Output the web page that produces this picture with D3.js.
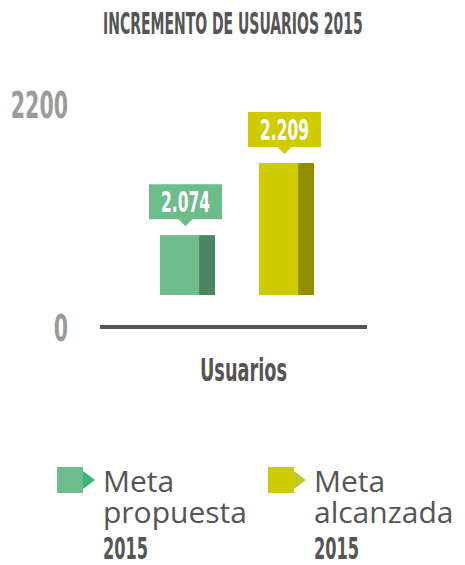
<!DOCTYPE html>
<html>
<head>
<meta charset="utf-8">
<script src="https://cdn.jsdelivr.net/npm/d3@7"></script>
<style>
  html, body { margin: 0; padding: 0; background: #fff; }
  svg { display: block; }
</style>
</head>
<body>
<div id="chart"></div>
<script>
const title = "INCREMENTO DE USUARIOS 2015";
const categories = ["Meta propuesta", "Meta alcanzada"];
const values = [2074, 2209];
const valueLabels = ["2.074", "2.209"];
const tickValues = [0, 2200];
const tickLabels = ["0", "2200"];
const axisLabel = "Usuarios";
const legendYear = "2015";

const width = 465, height = 565;
const condensed = "'DejaVu Sans Condensed', 'DejaVu Sans', sans-serif";

const colors = [
  { main: "#6dbd8b", side: "#4b8562", arrow: "#3db574" },
  { main: "#cecb00", side: "#918e00", arrow: "#b5cc2a" }
];

const svg = d3.select("#chart").append("svg")
  .attr("width", width)
  .attr("height", height);

// squeeze a text horizontally so it fills `w` px (the original uses a condensed face)
function squeeze(sel, x, y, w, anchor) {
  sel.each(function () {
    const natural = this.getComputedTextLength();
    const k = w / natural;
    d3.select(this).attr("x", 0).attr("y", 0)
      .attr("text-anchor", anchor || "start")
      .attr("transform", `translate(${x},${y}) scale(${k},1)`);
  });
  return sel;
}

// title
svg.append("text")
  .attr("font-family", condensed)
  .attr("font-weight", "bold")
  .attr("font-size", 30)
  .attr("fill", "#555")
  .text(title)
  .call(squeeze, 103, 34, 260);

// scales
const x = d3.scaleBand()
  .domain(categories)
  .range([103.5, 370.5])
  .paddingInner(0.444)
  .paddingOuter(0.57);

// bars sit on a truncated scale (as in the original graphic)
const y = d3.scaleLinear().domain([1962, 2209]).range([295, 163]);

// tick labels use the nominal 0..2200 scale
const yTicks = d3.scaleLinear().domain([0, 2200]).range([341, 118]);

svg.append("g").selectAll("text")
  .data(tickValues)
  .join("text")
  .attr("font-family", condensed)
  .attr("font-weight", "bold")
  .attr("font-size", 37)
  .attr("fill", "#9b9b9b")
  .text((d, i) => tickLabels[i])
  .each(function (d, i) {
    d3.select(this).call(squeeze, 68, yTicks(d), tickLabels[i].length * 14.3, "end");
  });

// baseline
svg.append("line")
  .attr("x1", 100).attr("x2", 367)
  .attr("y1", 327).attr("y2", 327)
  .attr("stroke", "#555")
  .attr("stroke-width", 4);

const bw = x.bandwidth();
const sideW = bw * 0.29;

const bars = svg.append("g").selectAll("g")
  .data(values)
  .join("g");

bars.append("rect")
  .attr("x", (d, i) => x(categories[i]))
  .attr("y", d => y(d))
  .attr("width", bw - sideW)
  .attr("height", d => y.range()[0] - y(d))
  .attr("fill", (d, i) => colors[i].main);

bars.append("rect")
  .attr("x", (d, i) => x(categories[i]) + bw - sideW)
  .attr("y", d => y(d))
  .attr("width", sideW)
  .attr("height", d => y.range()[0] - y(d))
  .attr("fill", (d, i) => colors[i].side);

// value callouts
const boxW = 73, boxH = 35, gap = 16, tri = 7;
const callout = bars.append("g")
  .attr("transform", (d, i) =>
    `translate(${x(categories[i]) + bw / 2 - 2},${y(d) - gap})`);

callout.append("path")
  .attr("d", `M${-boxW / 2},${-boxH}H${boxW / 2}V0H${tri}L0,${tri}L${-tri},0H${-boxW / 2}Z`)
  .attr("fill", (d, i) => colors[i].main);

callout.append("text")
  .attr("font-family", condensed)
  .attr("font-weight", "bold")
  .attr("font-size", 28)
  .attr("fill", "#fff")
  .text((d, i) => valueLabels[i])
  .call(squeeze, 0, -7, 49, "middle");

// axis category label
svg.append("text")
  .attr("font-family", condensed)
  .attr("font-weight", "bold")
  .attr("font-size", 32)
  .attr("fill", "#555")
  .text(axisLabel)
  .call(squeeze, 200, 381, 87);

// legend
const legendX = [57, 268];
const legend = svg.append("g").selectAll("g")
  .data(categories)
  .join("g")
  .attr("transform", (d, i) => `translate(${legendX[i]},467)`);

legend.append("rect")
  .attr("width", 26).attr("height", 26)
  .attr("fill", (d, i) => colors[i].main);

legend.append("path")
  .attr("d", "M26,4L38,13L26,22Z")
  .attr("fill", (d, i) => colors[i].arrow);

legend.each(function (d) {
  const g = d3.select(this);
  const words = d.split(" ");
  g.append("text")
    .attr("x", 46).attr("y", 25)
    .attr("font-family", "'Open Sans', sans-serif")
    .attr("font-size", 30)
    .attr("fill", "#555")
    .text(words[0]);
  g.append("text")
    .attr("x", 46).attr("y", 56)
    .attr("font-family", "'Open Sans', sans-serif")
    .attr("font-size", 30)
    .attr("fill", "#555")
    .text(words[1]);
  g.append("text")
    .attr("font-family", condensed)
    .attr("font-weight", "bold")
    .attr("font-size", 30)
    .attr("fill", "#555")
    .text(legendYear)
    .call(squeeze, 46, 92, 45);
});
</script>
</body>
</html>
